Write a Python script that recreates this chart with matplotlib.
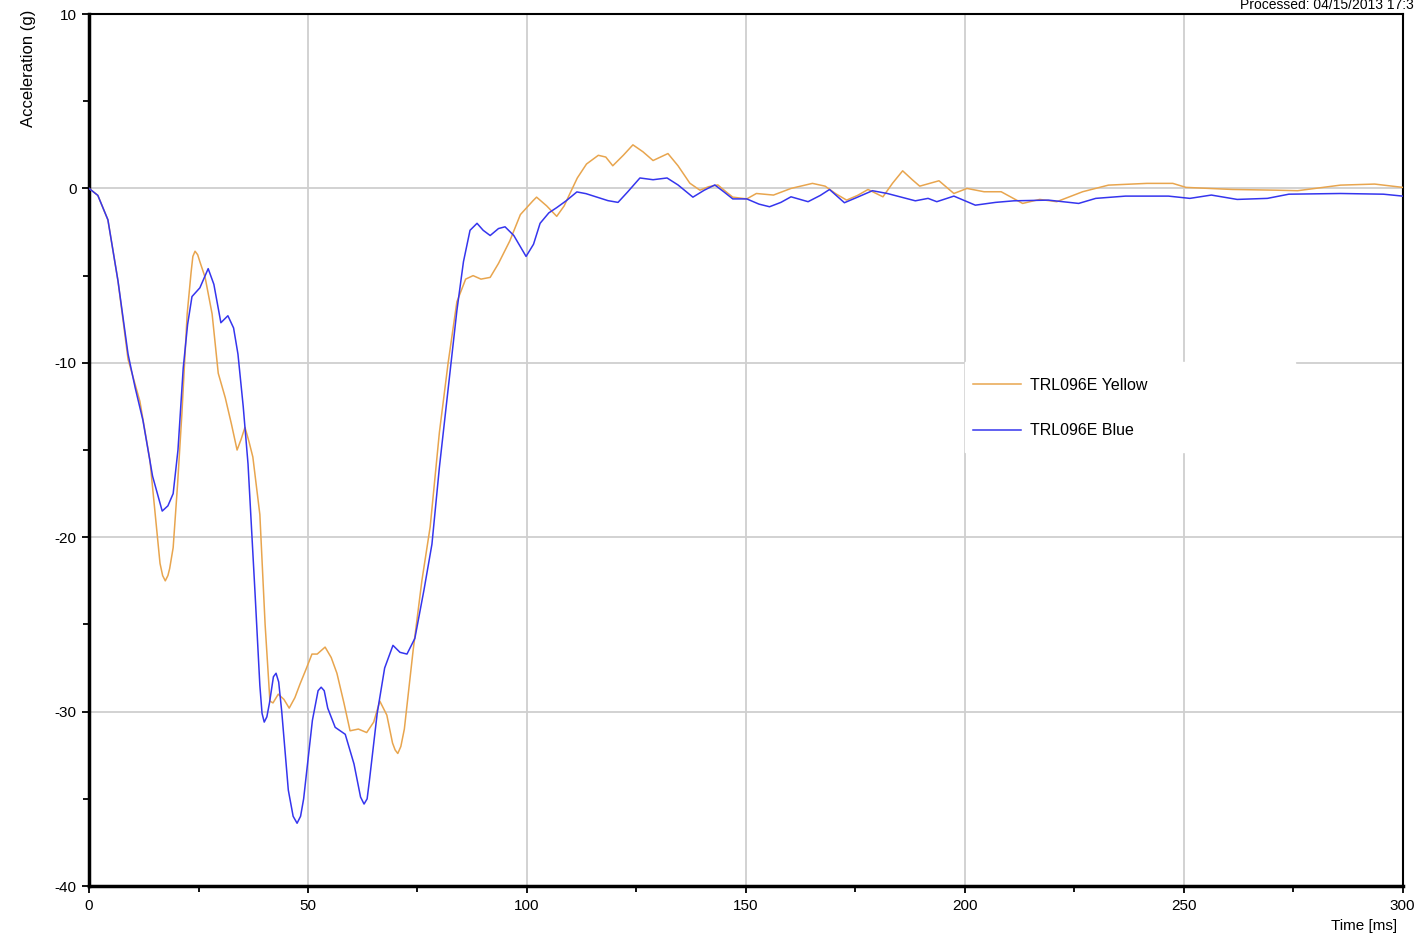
import matplotlib.pyplot as plt
from matplotlib.patches import Rectangle
from matplotlib.ticker import MultipleLocator

plt.rcParams['font.family'] = ['Liberation Sans', 'DejaVu Sans']
plt.rcParams['axes.unicode_minus'] = False

# Yellow channel (time in ms, acceleration in g)
time_yellow = [0, 2, 4.3, 6.6, 8.9, 9.8, 11.6, 13.9, 15.1, 16.2, 16.8, 17.4, 18.0, 18.4,
               19.2, 20.2, 21.2, 22.4, 23.3, 23.7, 24.2, 24.8, 25.3, 26.5, 28.1, 29.5,
               31.1, 32.5, 33.8, 34.7, 35.6, 36.5, 37.4, 39.0, 40.2, 41.3, 42.0, 43.2,
               44.5, 45.7, 47, 48.2, 49.5, 50.9, 52.1, 53.9, 55.3, 56.6, 58.2, 59.6,
               61.5, 63.4, 65, 66.4, 68, 69.3, 69.9, 70.5, 71.2, 72, 74, 76, 77.9, 80,
               82, 84, 86, 87.7, 89.5, 91.6, 93.5, 96.1, 98.5, 101.4, 102.2, 104.5,
               106.8, 108.5, 109.8, 111.5, 113.6, 116.3, 118, 119.6, 122, 124.2, 126.5,
               128.8, 130.5, 132.2, 134.5, 137.2, 139.5, 141.5, 143.6, 145.5, 147,
               150.2, 152.4, 156.3, 160.3, 165.2, 168.1, 170.5, 173, 175.5, 177.9,
               181.3, 183.5, 185.8, 188, 189.7, 194.1, 197.5, 200.5, 204.4, 208.3,
               213.2, 217.1, 221, 226.9, 232.8, 241.6, 247.5, 250.5, 261.2, 271, 276,
               285.8, 293.6, 300]
acc_yellow = [0, -0.4, -1.8, -5.3, -9.8, -10.6, -12.2, -15.6, -18.7, -21.5, -22.2, -22.5,
              -22.2, -21.8, -20.6, -17, -12.9, -7.2, -4.8, -3.9, -3.6, -3.8, -4.2, -5.1,
              -7.2, -10.6, -12, -13.5, -15.0, -14.4, -13.7, -14.5, -15.4, -18.7, -25,
              -29.4, -29.5, -29.0, -29.3, -29.8, -29.2, -28.4, -27.6, -26.7, -26.7,
              -26.3, -26.9, -27.8, -29.5, -31.1, -31.0, -31.2, -30.6, -29.4, -30.2,
              -31.8, -32.2, -32.4, -32.0, -31, -26.5, -22.5, -19.4, -14, -10, -6.5,
              -5.2, -5.0, -5.2, -5.1, -4.3, -3.0, -1.5, -0.7, -0.5, -1.0, -1.6, -1.0,
              -0.3, 0.6, 1.4, 1.9, 1.8, 1.3, 1.9, 2.5, 2.1, 1.6, 1.8, 2.0, 1.3, 0.3,
              -0.1, 0.1, 0.2, -0.2, -0.5, -0.6, -0.29, -0.38, 0, 0.29, 0.13, -0.3,
              -0.67, -0.4, -0.06, -0.48, 0.3, 1.01, 0.5, 0.13, 0.44, -0.29, 0, -0.19,
              -0.19, -0.86, -0.63, -0.76, -0.19, 0.19, 0.29, 0.29, 0.06, -0.06, -0.1,
              -0.13, 0.19, 0.25, 0.06]

# Blue channel
time_blue = [0, 2, 4.3, 6.6, 8.9, 10.5, 12.3, 14.5, 16.7, 18, 19.2, 20.3, 21.5, 22.5, 23.5,
             25.3, 27.2, 28.5, 30.1, 31.7, 33, 34.0, 35.2, 36.3, 37.9, 39, 39.5, 40.0,
             40.6, 41.2, 42.1, 42.7, 43.3, 44, 45.5, 46.6, 47.5, 48.3, 49, 51, 52.3,
             53.0, 53.7, 54.5, 56.2, 58.5, 60.5, 62, 62.8, 63.5, 64, 65.8, 67.5, 69.4,
             71, 72.6, 74.4, 76.5, 78.3, 80, 82, 84, 85.5, 87, 88.6, 90, 91.6, 93.5,
             95, 97, 99.8, 101.5, 103, 105, 106.8, 109, 111.4, 113.5, 116, 118.5,
             120.8, 123, 125.8, 128.8, 132, 134.5, 137.9, 140.5, 142.9, 145, 147,
             150.2, 153, 155.4, 158, 160.3, 164.2, 167, 169.1, 172.5, 175.5, 178.9,
             182.3, 185.5, 188.7, 191.6, 193.6, 197.5, 202.4, 207, 211.2, 219.1, 226,
             229.9, 236.7, 246.5, 251.4, 256.3, 262.2, 269.1, 274, 285.8, 295.6, 300]
acc_blue = [0, -0.4, -1.8, -5.3, -9.5, -11.4, -13.3, -16.5, -18.5, -18.2, -17.5, -15,
            -10.3, -7.8, -6.2, -5.7, -4.6, -5.5, -7.7, -7.3, -8, -9.5, -12.5, -15.8,
            -23.2, -28.5, -30.1, -30.6, -30.3, -29.5, -28.0, -27.8, -28.3, -30, -34.5,
            -36.0, -36.4, -36.0, -35, -30.5, -28.8, -28.6, -28.8, -29.8, -30.9, -31.3,
            -33, -34.9, -35.3, -35.0, -34, -30.1, -27.5, -26.2, -26.6, -26.7, -25.8,
            -23, -20.4, -16, -11.5, -7, -4.2, -2.4, -2.0, -2.4, -2.7, -2.3, -2.2,
            -2.7, -3.9, -3.2, -2.0, -1.4, -1.1, -0.7, -0.2, -0.3, -0.5, -0.7, -0.8,
            -0.2, 0.6, 0.5, 0.6, 0.2, -0.5, -0.1, 0.2, -0.2, -0.6, -0.6, -0.9, -1.05,
            -0.8, -0.48, -0.76, -0.4, -0.06, -0.82, -0.5, -0.13, -0.29, -0.5, -0.71,
            -0.57, -0.76, -0.44, -0.96, -0.8, -0.71, -0.67, -0.86, -0.57, -0.44,
            -0.44, -0.57, -0.38, -0.63, -0.57, -0.33, -0.29, -0.33, -0.44]

fig = plt.figure(figsize=(14.14, 9.36), dpi=100)
ax = fig.add_axes([0.063, 0.0534, 0.929, 0.9316])

ax.plot(time_yellow, acc_yellow, color='#E8A54E', lw=1.1, label='TRL096E Yellow', zorder=3)
ax.plot(time_blue, acc_blue, color='#3535EE', lw=1.1, label='TRL096E Blue', zorder=3)

ax.set_xlim(0, 300)
ax.set_ylim(-40, 10)
ax.xaxis.set_major_locator(MultipleLocator(50))
ax.xaxis.set_minor_locator(MultipleLocator(25))
ax.yaxis.set_major_locator(MultipleLocator(10))
ax.yaxis.set_minor_locator(MultipleLocator(5))
ax.set_axisbelow(True)
ax.grid(which='major', color='#cfcfcf', lw=1.3)

for side in ['left', 'bottom']:
    ax.spines[side].set_linewidth(2.5)
for side in ['top', 'right']:
    ax.spines[side].set_linewidth(1.5)
ax.tick_params(which='major', length=5, width=1.3, labelsize=11, pad=4)
ax.tick_params(which='minor', length=4, width=1.3)

# white block behind the legend
ax.add_patch(Rectangle((0.667, 0.498), 0.251, 0.103, transform=ax.transAxes,
                       color='white', zorder=1))
ax.legend(loc='upper left', bbox_to_anchor=(0.662, 0.599), frameon=False,
          fontsize=11.5, handlelength=3.0, handletextpad=0.55, labelspacing=1.9)

fig.text(0.02, 0.99, 'Acceleration (g)', rotation=90, ha='center', va='top', fontsize=12)
fig.text(0.965, 0.011, 'Time [ms]', ha='center', va='center', fontsize=11)
fig.text(0.877, 0.995, 'Processed: 04/15/2013 17:36', ha='left', va='center', fontsize=10)

fig.savefig('out.png', dpi=100)
